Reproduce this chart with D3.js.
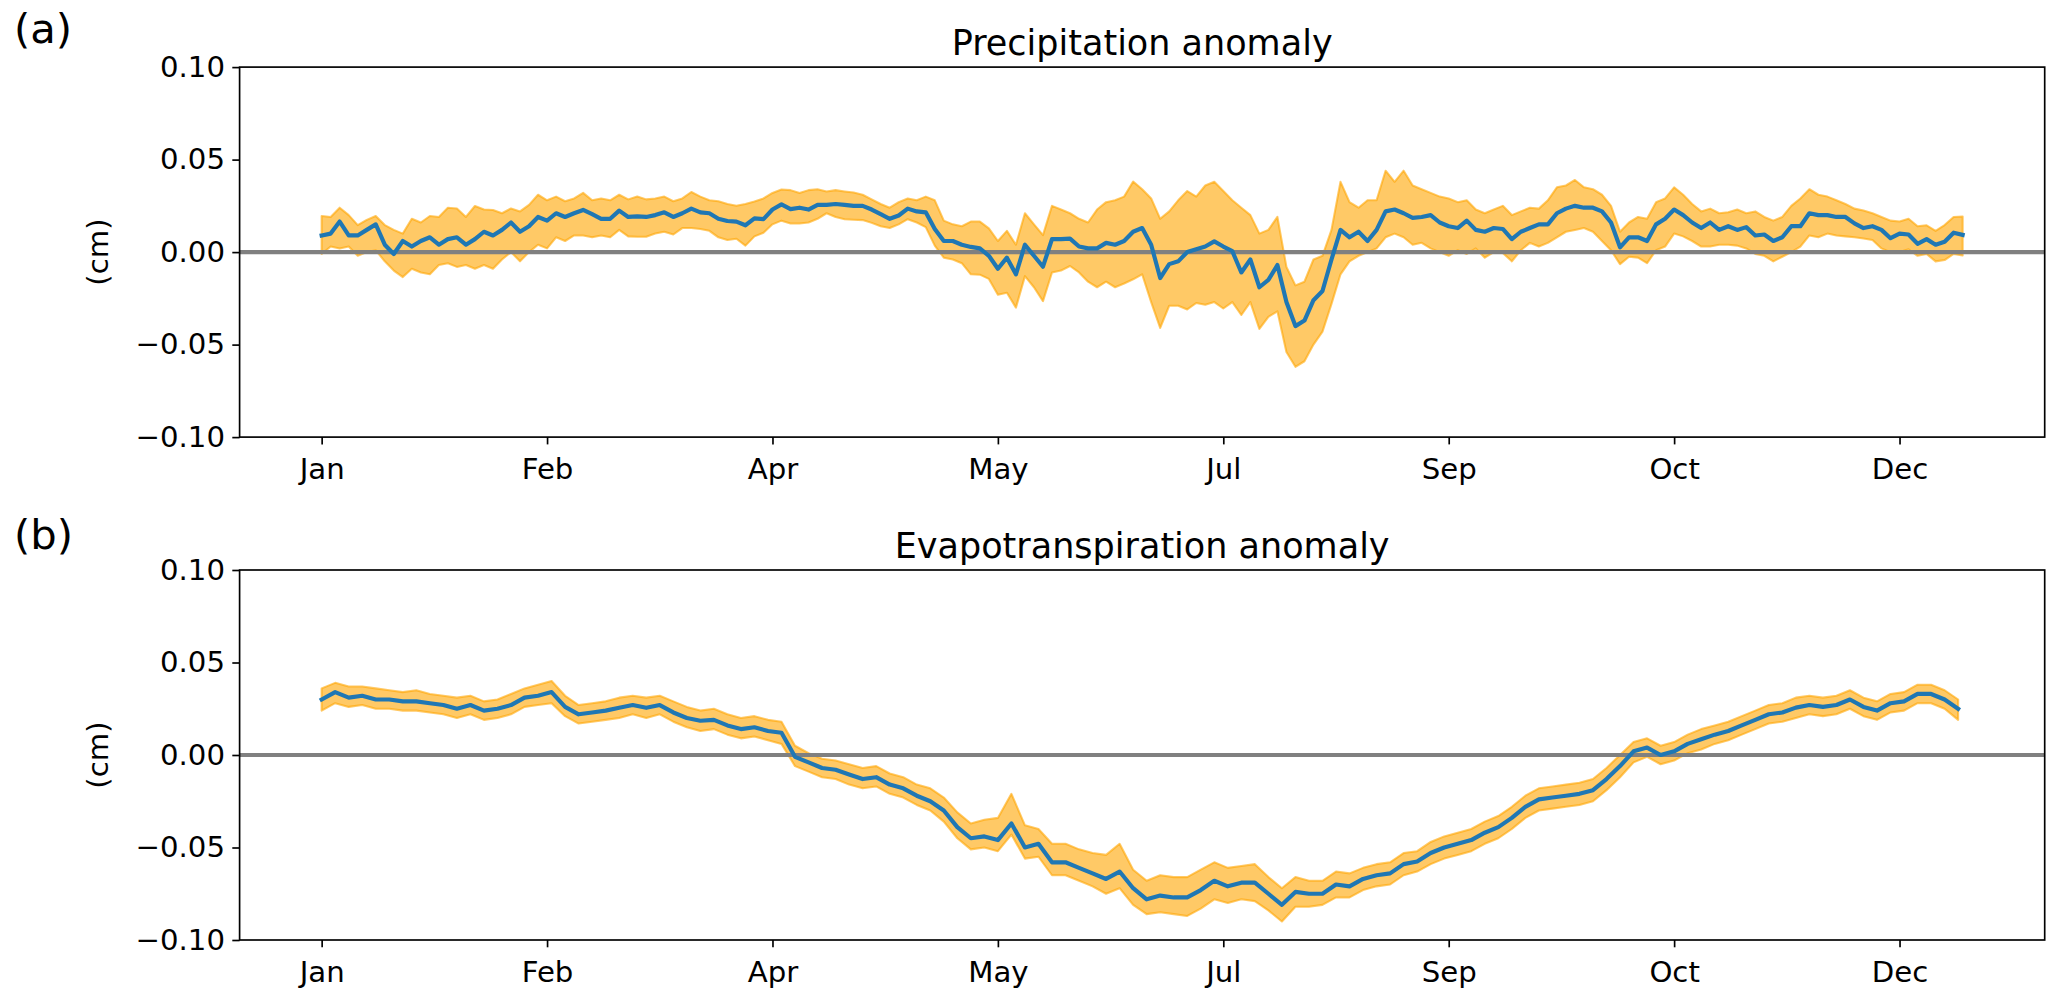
<!DOCTYPE html>
<html><head><meta charset="utf-8">
<script src="https://cdn.jsdelivr.net/npm/d3@7"></script>
<style>body{margin:0;background:#fff} svg{display:block} text{font-family:"DejaVu Sans",sans-serif}</style>
</head><body><svg id="chart" width="2067" height="1002"></svg>
<script>
// ---------- data ----------
const tickDays = [0, 50, 100, 150, 200, 250, 300, 350];
const tickLabels = ["Jan", "Feb", "Apr", "May", "Jul", "Sep", "Oct", "Dec"];
const yTicks = [-0.10, -0.05, 0.00, 0.05, 0.10];
const panelTitles = ["Precipitation anomaly", "Evapotranspiration anomaly"];
const panelTags = ["(a)", "(b)"];
const yLabel = "(cm)";

// Panel (a): one value every 2 days (day 0 .. 364)
const stepA = 2;
const meanA = [0.009,0.010,0.0165,0.009,0.009,0.012,0.015,0.004,-0.001,0.006,0.003,0.006,0.008,0.004,0.007,0.008,0.004,0.007,0.011,0.009,0.012,0.016,0.011,0.014,0.019,0.017,0.021,0.019,0.021,0.0228,
0.0205,0.018,0.018,0.0224,0.019,0.0193,0.019,0.020,0.0215,0.019,0.021,0.0235,0.0215,0.021,0.018,0.0168,0.0165,0.0145,0.0182,0.0178,0.023,0.0258,0.0232,0.024,0.023,0.0255,0.0255,0.026,0.0255,0.025,0.025,0.023,0.0205,0.018,0.0198,0.0235,0.022,0.0215,0.0125,
0.006,0.006,0.004,0.0028,0.002,-0.002,-0.009,-0.003,-0.012,0.004,-0.002,-0.0079,0.007,0.007,0.0073,0.003,0.002,0.002,0.005,0.004,0.006,0.011,0.013,0.004,-0.014,-0.0065,-0.005,0.000,0.0015,0.003,0.0058,0.003,0.0005,-0.011,-0.004,-0.019,-0.015,-0.007,-0.027,-0.040,-0.037,-0.026,-0.021,-0.004,0.012,0.008,0.011,0.006,0.012,0.022,0.023,0.021,0.0185,0.019,0.020,0.016,0.014,0.013,0.017,0.012,0.011,0.013,0.0125,0.007,0.011,0.013,0.015,0.015,0.021,0.0235,0.025,0.024,0.024,0.022,0.016,0.0026,0.008,0.008,0.006,0.015,0.018,0.023,0.020,0.016,0.013,0.016,0.012,0.014,0.012,0.0135,0.009,0.0095,0.006,0.008,0.014,0.014,0.021,0.020,0.020,0.019,0.019,0.0155,0.013,0.014,0.012,0.0075,0.010,0.0095,0.0045,0.007,0.004,0.0056,0.0105,0.0093];
const upperA = [0.0195,0.019,0.024,0.020,0.0146,0.0174,0.0195,0.0146,0.012,0.010,0.018,0.016,0.0195,0.019,0.024,0.0236,0.019,0.0249,0.023,0.0228,0.021,0.0236,0.022,0.0255,0.031,0.028,0.030,0.0275,0.029,0.032,
0.028,0.029,0.028,0.031,0.0285,0.030,0.0285,0.029,0.030,0.0275,0.029,0.0325,0.030,0.028,0.0275,0.026,0.025,0.026,0.0273,0.029,0.032,0.0338,0.0335,0.032,0.0335,0.034,0.0328,0.0335,0.0328,0.0322,0.031,0.0285,0.026,0.024,0.027,0.029,0.028,0.030,0.028,
0.017,0.015,0.014,0.0165,0.0165,0.0128,0.006,0.0115,0.004,0.021,0.015,0.0092,0.025,0.023,0.021,0.018,0.016,0.023,0.027,0.028,0.030,0.0381,0.034,0.029,0.018,0.022,0.028,0.033,0.030,0.036,0.038,0.033,0.028,0.024,0.020,0.010,0.012,0.019,-0.008,-0.018,-0.016,-0.004,-0.002,0.012,0.038,0.027,0.024,0.028,0.028,0.044,0.038,0.044,0.036,0.034,0.032,0.030,0.029,0.027,0.028,0.023,0.021,0.023,0.025,0.020,0.022,0.024,0.0235,0.028,0.035,0.036,0.039,0.035,0.034,0.031,0.025,0.011,0.016,0.019,0.018,0.027,0.029,0.035,0.031,0.026,0.022,0.0235,0.021,0.0215,0.023,0.021,0.022,0.019,0.017,0.019,0.025,0.029,0.034,0.031,0.030,0.028,0.026,0.0235,0.0225,0.021,0.019,0.017,0.0165,0.018,0.014,0.0145,0.0115,0.0146,0.019,0.0192];
const lowerA = [-0.001,0.003,0.002,0.003,-0.002,0.000,0.001,-0.005,-0.010,-0.0135,-0.009,-0.011,-0.012,-0.007,-0.006,-0.008,-0.007,-0.009,-0.007,-0.009,-0.004,0.000,-0.005,0.000,0.004,0.002,0.008,0.006,0.009,0.009,
0.008,0.009,0.008,0.012,0.0085,0.0083,0.0083,0.010,0.011,0.0095,0.013,0.013,0.0125,0.0115,0.008,0.0065,0.0072,0.0035,0.0085,0.0105,0.015,0.017,0.0155,0.0155,0.016,0.018,0.021,0.019,0.0178,0.0175,0.0173,0.0158,0.014,0.013,0.015,0.0178,0.016,0.0135,0.0035,
-0.003,-0.004,-0.006,-0.012,-0.0122,-0.0145,-0.023,-0.022,-0.030,-0.013,-0.019,-0.0265,-0.011,-0.010,-0.0075,-0.011,-0.016,-0.019,-0.016,-0.019,-0.017,-0.0147,-0.012,-0.027,-0.041,-0.029,-0.029,-0.031,-0.0275,-0.0285,-0.027,-0.0305,-0.027,-0.034,-0.027,-0.0415,-0.035,-0.032,-0.054,-0.062,-0.059,-0.050,-0.043,-0.028,-0.012,-0.005,-0.002,0.000,0.002,0.008,0.010,0.008,0.004,0.005,0.002,0.000,-0.002,0.001,-0.001,0.002,-0.003,0.000,-0.0005,-0.005,0.001,0.005,0.003,0.005,0.008,0.011,0.012,0.013,0.011,0.006,0.001,-0.0065,-0.0025,-0.003,-0.006,0.001,0.003,0.010,0.0085,0.006,0.003,0.003,0.004,0.004,0.0035,0.002,-0.001,-0.002,-0.005,-0.0025,0.000,0.003,0.009,0.008,0.010,0.009,0.0085,0.008,0.0073,0.0065,0.002,0.000,0.000,0.0015,-0.002,-0.001,-0.005,-0.0043,-0.001,-0.0018];

// Panel (b): one value every 3 days (day 0 .. 363)
const stepB = 3;
const meanB = [0.030,0.034,0.031,0.032,0.030,0.030,0.029,0.029,0.028,0.027,0.025,0.027,0.024,0.025,0.027,0.031,0.032,0.034,0.026,0.022,
0.023,0.024,0.0255,0.027,0.0255,0.027,0.023,0.020,0.0185,0.019,0.016,0.014,0.015,0.013,0.012,-0.001,-0.004,-0.007,-0.008,-0.0105,
-0.013,-0.012,-0.016,-0.018,-0.022,-0.025,-0.030,-0.039,-0.045,-0.044,-0.046,-0.037,-0.050,-0.048,-0.058,-0.058,-0.061,-0.064,-0.067,-0.063,
-0.072,-0.078,-0.076,-0.077,-0.077,-0.073,-0.068,-0.071,-0.069,-0.069,-0.075,-0.081,-0.074,-0.075,-0.075,-0.070,-0.071,-0.067,-0.065,-0.064,
-0.059,-0.0576,-0.053,-0.050,-0.048,-0.046,-0.042,-0.039,-0.034,-0.028,-0.024,-0.023,-0.022,-0.021,-0.019,-0.013,-0.006,0.002,0.004,0.000,
0.002,0.006,0.0085,0.011,0.013,0.016,0.019,0.022,0.023,0.0256,0.027,0.026,0.027,0.030,0.026,0.024,0.028,0.029,0.033,0.033,0.030,0.025];
const upperB = [0.036,0.039,0.037,0.037,0.036,0.035,0.034,0.035,0.033,0.032,0.031,0.032,0.029,0.030,0.033,0.036,0.038,0.040,0.032,0.027,
0.028,0.029,0.031,0.032,0.031,0.032,0.029,0.026,0.024,0.025,0.022,0.020,0.021,0.019,0.018,0.005,0.001,-0.002,-0.003,-0.005,
-0.007,-0.006,-0.010,-0.012,-0.016,-0.018,-0.023,-0.031,-0.037,-0.035,-0.034,-0.021,-0.038,-0.040,-0.048,-0.048,-0.051,-0.053,-0.054,-0.048,
-0.062,-0.068,-0.065,-0.066,-0.066,-0.062,-0.058,-0.061,-0.060,-0.059,-0.066,-0.072,-0.066,-0.068,-0.068,-0.063,-0.064,-0.061,-0.059,-0.058,
-0.053,-0.052,-0.047,-0.044,-0.042,-0.040,-0.036,-0.033,-0.028,-0.022,-0.018,-0.017,-0.016,-0.015,-0.013,-0.007,0.000,0.007,0.009,0.005,
0.007,0.011,0.014,0.016,0.018,0.021,0.024,0.027,0.028,0.031,0.032,0.031,0.032,0.035,0.031,0.029,0.033,0.034,0.038,0.038,0.035,0.030];
const lowerB = [0.024,0.028,0.026,0.027,0.025,0.025,0.024,0.024,0.023,0.022,0.020,0.022,0.019,0.020,0.022,0.026,0.027,0.028,0.021,0.017,
0.018,0.019,0.020,0.022,0.020,0.022,0.018,0.015,0.013,0.014,0.011,0.009,0.010,0.008,0.006,-0.006,-0.009,-0.012,-0.013,-0.016,
-0.018,-0.017,-0.021,-0.023,-0.027,-0.030,-0.036,-0.045,-0.051,-0.050,-0.052,-0.043,-0.056,-0.055,-0.065,-0.065,-0.068,-0.071,-0.075,-0.072,
-0.081,-0.086,-0.085,-0.086,-0.087,-0.083,-0.078,-0.080,-0.078,-0.079,-0.084,-0.090,-0.082,-0.082,-0.081,-0.077,-0.077,-0.073,-0.071,-0.070,
-0.065,-0.063,-0.059,-0.056,-0.054,-0.052,-0.048,-0.045,-0.040,-0.034,-0.030,-0.029,-0.028,-0.027,-0.025,-0.019,-0.012,-0.004,-0.001,-0.005,
-0.003,0.001,0.003,0.006,0.008,0.011,0.014,0.017,0.018,0.020,0.022,0.021,0.022,0.025,0.021,0.019,0.023,0.024,0.028,0.028,0.025,0.019];

// ---------- layout ----------
const W = 2067, H = 1002;
const L = 239.6, R = 2044.7;
const panels = [
  {top: 67.1, bottom: 437.1, step: stepA, mean: meanA, upper: upperA, lower: lowerA, tagY: 42.5},
  {top: 570, bottom: 940, step: stepB, mean: meanB, upper: upperB, lower: lowerB, tagY: 548.5}
];
const FS = 29.2, TICK = 7.3, LW = 4.17, SPINE = 1.67;

const svg = d3.select("#chart");
svg.append("rect").attr("width", W).attr("height", H).attr("fill", "#fff");

const x = d3.scaleLinear().domain([-18.2, 382.2]).range([L, R]);

panels.forEach((p, k) => {
  const y = d3.scaleLinear().domain([-0.1, 0.1]).range([p.bottom, p.top]);
  const g = svg.append("g");
  const idx = d3.range(p.mean.length);

  const area = d3.area()
    .x(i => x(i * p.step))
    .y0(i => y(p.lower[i]))
    .y1(i => y(p.upper[i]));
  g.append("path").datum(idx).attr("d", area)
    .attr("fill", "orange").attr("fill-opacity", 0.6)
    .attr("stroke", "orange").attr("stroke-opacity", 0.6).attr("stroke-width", 2.08)
    .attr("stroke-linejoin", "round");

  g.append("line").attr("x1", L).attr("x2", R).attr("y1", y(0)).attr("y2", y(0))
    .attr("stroke", "#808080").attr("stroke-width", LW);

  const line = d3.line().x(i => x(i * p.step)).y(i => y(p.mean[i]));
  g.append("path").datum(idx).attr("d", line)
    .attr("fill", "none").attr("stroke", "#1f77b4").attr("stroke-width", LW)
    .attr("stroke-linejoin", "round").attr("stroke-linecap", "square");

  // axes
  const xa = g.append("g").attr("transform", `translate(0,${p.bottom})`)
    .call(d3.axisBottom(x).tickValues(tickDays).tickFormat((d, i) => tickLabels[i])
      .tickSize(TICK).tickPadding(TICK + 7).tickSizeOuter(0));
  const ya = g.append("g").attr("transform", `translate(${L},0)`)
    .call(d3.axisLeft(y).tickValues(yTicks).tickFormat(d3.format(".2f"))
      .tickSize(TICK).tickPadding(TICK).tickSizeOuter(0));
  [xa, ya].forEach(a => {
    a.select(".domain").remove();
    a.selectAll("line").attr("stroke", "#000").attr("stroke-width", SPINE);
    a.selectAll("text").attr("font-size", FS).attr("fill", "#000")
      .attr("font-family", "DejaVu Sans");
  });

  g.append("rect").attr("x", L).attr("y", p.top).attr("width", R - L).attr("height", p.bottom - p.top)
    .attr("fill", "none").attr("stroke", "#000").attr("stroke-width", SPINE);

  g.append("text").attr("x", (L + R) / 2).attr("y", p.top - 12.5)
    .attr("text-anchor", "middle").attr("font-size", 35).text(panelTitles[k]);

  g.append("text").attr("transform", `translate(${108},${(p.top + p.bottom) / 2}) rotate(-90)`)
    .attr("text-anchor", "middle").attr("font-size", FS).text(yLabel);

  g.append("text").attr("x", 14).attr("y", p.tagY).attr("font-size", 41.7).text(panelTags[k]);
});
</script></body></html>
